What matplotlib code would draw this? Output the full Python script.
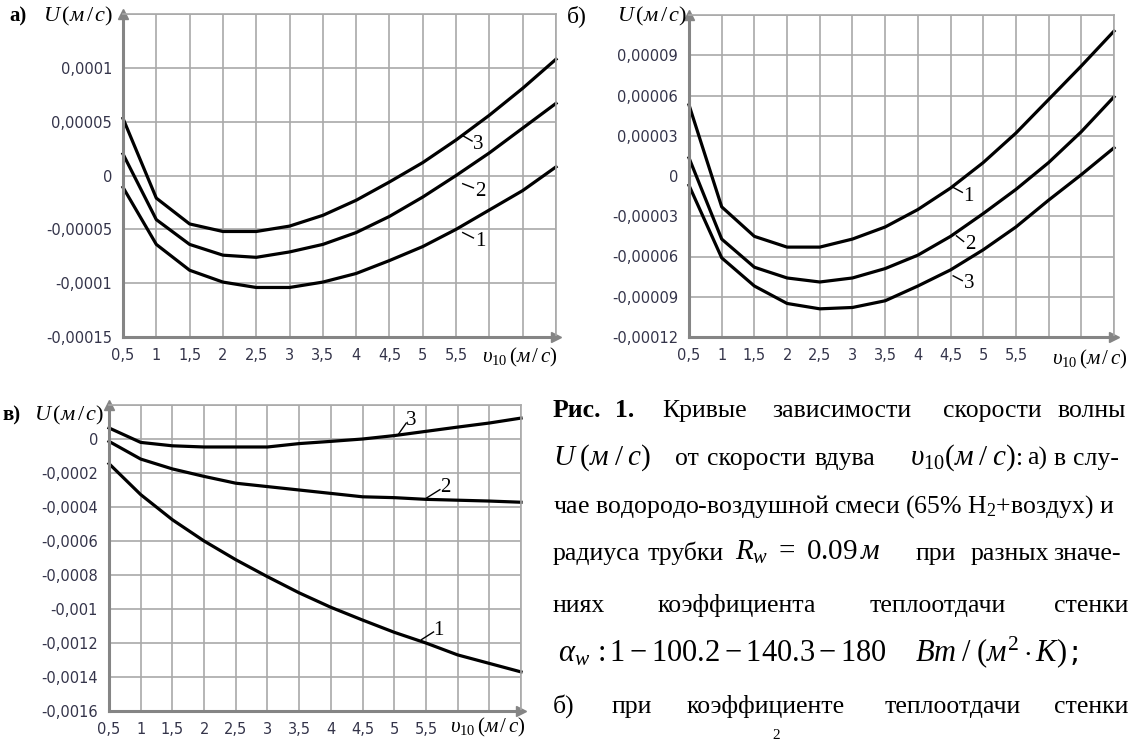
import numpy as np
import matplotlib.pyplot as plt

plt.rcParams['mathtext.fontset'] = 'custom'
plt.rcParams['mathtext.rm'] = 'Liberation Serif'
plt.rcParams['mathtext.it'] = 'Liberation Serif:italic'
plt.rcParams['mathtext.bf'] = 'Liberation Serif:bold'

W, H = 1128, 740

# blowing speed v10, m/s
v10 = [0.5, 1, 1.5, 2, 2.5, 3, 3.5, 4, 4.5, 5, 5.5, 6, 6.5, 7]
xlabels = ['0,5', '1', '1,5', '2', '2,5', '3', '3,5', '4', '4,5', '5', '5,5', '', '', '']

# panel a (units 1e-5 m/s)
a1 = [-1.1, -6.4, -8.8, -9.9, -10.4, -10.4, -9.9, -9.1, -7.9, -6.6, -5.0, -3.2, -1.4, 0.8]
a2 = [2.0, -4.1, -6.4, -7.4, -7.6, -7.1, -6.4, -5.3, -3.8, -2.0, 0.0, 2.1, 4.4, 6.7]
a3 = [5.3, -2.1, -4.5, -5.2, -5.2, -4.7, -3.7, -2.3, -0.6, 1.2, 3.3, 5.6, 8.1, 10.8]
a_yticks = [-15, -10, -5, 0, 5, 10, 15]
a_ylabels = ['-0,00015', '-0,0001', '-0,00005', '0', '0,00005', '0,0001', '']

# panel b (units 1e-5 m/s)
b1 = [5.3, -2.3, -4.5, -5.3, -5.3, -4.7, -3.8, -2.5, -0.9, 1.0, 3.2, 5.7, 8.2, 10.8]
b2 = [1.35, -4.7, -6.8, -7.6, -7.9, -7.6, -6.9, -5.9, -4.5, -2.8, -1.0, 1.0, 3.3, 5.9]
b3 = [-0.7, -6.1, -8.2, -9.5, -9.9, -9.8, -9.3, -8.2, -7.0, -5.5, -3.8, -1.8, 0.1, 2.1]
b_yticks = [-12, -9, -6, -3, 0, 3, 6, 9, 12]
b_ylabels = ['-0,00012', '-0,00009', '-0,00006', '-0,00003', '0', '0,00003', '0,00006', '0,00009', '']

# panel c (units 1e-4 m/s)
c1 = [-1.45, -3.27, -4.75, -6.0, -7.1, -8.1, -9.05, -9.9, -10.65, -11.37, -12.0, -12.7, -13.2, -13.7]
c2 = [-0.14, -1.18, -1.76, -2.2, -2.6, -2.8, -3.0, -3.2, -3.4, -3.45, -3.55, -3.6, -3.65, -3.72]
c3 = [0.65, -0.2, -0.4, -0.47, -0.47, -0.47, -0.27, -0.14, 0.0, 0.2, 0.45, 0.7, 0.94, 1.23]
c_yticks = [-16, -14, -12, -10, -8, -6, -4, -2, 0, 2]
c_ylabels = ['-0,0016', '-0,0014', '-0,0012', '-0,001', '-0,0008', '-0,0006', '-0,0004', '-0,0002', '0', '']

grid_c = '#a9a9a9'
spine_c = '#858585'
tick_c = '#34344a'

fig = plt.figure(figsize=(W / 100, H / 100), dpi=100)


def add_ax(l, t, r, b):
    return fig.add_axes([l / W, 1 - b / H, (r - l) / W, (b - t) / H])


def ftxt(x, y, s, **kw):
    fig.text(x / W, 1 - y / H, s, **kw)


def panel(ax, curves, yticks, ylabels, marks):
    ax.set_xlim(0.5, 7)
    ax.set_ylim(yticks[0], yticks[-1])
    ax.set_xticks(v10)
    ax.set_xticklabels(xlabels)
    ax.set_yticks(yticks)
    ax.set_yticklabels(ylabels)
    ax.grid(color=grid_c, lw=1.2)
    ax.set_axisbelow(True)
    ax.tick_params(length=0, labelsize=10.5, labelcolor=tick_c, pad=8)
    for y in curves:
        ax.plot(v10, y, color='black', lw=2.3, solid_joinstyle='round', clip_on=False)
    for sp in ['top', 'right']:
        ax.spines[sp].set_color(grid_c)
        ax.spines[sp].set_linewidth(1.2)
    for sp in ['left', 'bottom']:
        ax.spines[sp].set_color(spine_c)
        ax.spines[sp].set_linewidth(2.2)
    ax.plot(0, 1, marker='^', ms=7, color=spine_c, transform=ax.transAxes, clip_on=False)
    ax.plot(1, 0, marker='>', ms=7, color=spine_c, transform=ax.transAxes, clip_on=False)
    for (lx, ly, tx, ty, s) in marks:
        ax.plot(lx, ly, color='black', lw=1.0)
        ax.text(tx, ty, s, fontsize=15, family='Liberation Serif', va='center', ha='left')


ax_a = add_ax(123, 14, 556, 337)
panel(ax_a, [a1, a2, a3], a_yticks, a_ylabels,
      [([5.6, 5.74], [3.7, 3.2], 5.76, 2.9, '3'),
       ([5.6, 5.76], [-0.76, -1.15], 5.78, -1.5, '2'),
       ([5.6, 5.76], [-5.3, -5.8], 5.78, -6.1, '1')])

ax_b = add_ax(689, 15, 1114, 337)
panel(ax_b, [b1, b2, b3], b_yticks, b_ylabels,
      [([4.54, 4.68], [-0.85, -1.22], 4.7, -1.5, '1'),
       ([4.59, 4.7], [-4.46, -4.88], 4.72, -5.1, '2'),
       ([4.54, 4.68], [-7.44, -7.8], 4.7, -8.0, '3')])

ax_c = add_ax(109, 405, 521, 711)
panel(ax_c, [c1, c2, c3], c_yticks, c_ylabels,
      [([5.06, 5.19], [0.25, 0.94], 5.19, 1.1, '3'),
       ([5.51, 5.72], [-3.47, -2.98], 5.72, -2.85, '2'),
       ([5.43, 5.62], [-11.8, -11.35], 5.62, -11.25, '1')])

# axis titles of the panels
ulab = r'$U\,(м\,/\,с)$'
xlab = r'$\upsilon_{10}\,(м\,/\,с)$'
ftxt(9, 16, 'а)', fontsize=15, family='Liberation Serif', weight='bold', va='center')
ftxt(113, 16, ulab, fontsize=16, ha='right', va='center')
ftxt(567, 16, 'б)', fontsize=17, family='Liberation Serif', va='center')
ftxt(687, 16, ulab, fontsize=16, ha='right', va='center')
ftxt(2, 415, 'в)', fontsize=15, family='Liberation Serif', weight='bold', va='center')
ftxt(104, 415, ulab, fontsize=16, ha='right', va='center')
ftxt(558, 357, xlab, fontsize=15, ha='right', va='center')
ftxt(1128, 359, xlab, fontsize=15, ha='right', va='center')
ftxt(526, 727, xlab, fontsize=15, ha='right', va='center')

# caption, justified word by word
cap = dict(fontsize=18.5, family='Liberation Serif', va='baseline')
mcap = dict(fontsize=21, va='baseline')
for s, x, bold in [('Рис.', 553, True), ('1.', 615, True), ('Кривые', 662, False),
                   ('зависимости', 772, False), ('скорости', 943, False), ('волны', 1058, False)]:
    ftxt(x, 417, s, weight='bold' if bold else 'normal', **cap)
ftxt(553, 465, r'$U\;(м\;/\;с)$', **mcap)
for s, x in [('от', 675), ('скорости', 707), ('вдува', 815), (':', 1016),
             ('а)', 1027), ('в', 1054), ('слу-', 1073)]:
    ftxt(x, 465, s, **cap)
ftxt(910, 465, r'$\upsilon_{10}(м\;/\;с)$', **mcap)
ftxt(553, 513, 'чае водородо-воздушной смеси (65% H$_2$+воздух) и', **cap)
for s, x in [('радиуса', 553), ('трубки', 648), ('при', 916), ('разных', 971), ('значе-', 1053)]:
    ftxt(x, 560, s, **cap)
ftxt(735, 560, r'$R_w\ =\ 0.09\,м$', **mcap)
for s, x in [('ниях', 553), ('коэффициента', 658), ('теплоотдачи', 870), ('стенки', 1054)]:
    ftxt(x, 612, s, **cap)
ftxt(558, 661, r'$\alpha_w\,:1-100.2-140.3-180$', fontsize=22, va='baseline')
ftxt(915, 661, r'$Вт\;/\;(м^2\cdot К)\,$;', fontsize=22, va='baseline')
for s, x in [('б)', 553), ('при', 612), ('коэффициенте', 687), ('теплоотдачи', 885), ('стенки', 1054)]:
    ftxt(x, 713, s, **cap)
ftxt(772, 739, '2', fontsize=11, family='Liberation Serif', va='baseline')

fig.savefig('out.png', dpi=100)
